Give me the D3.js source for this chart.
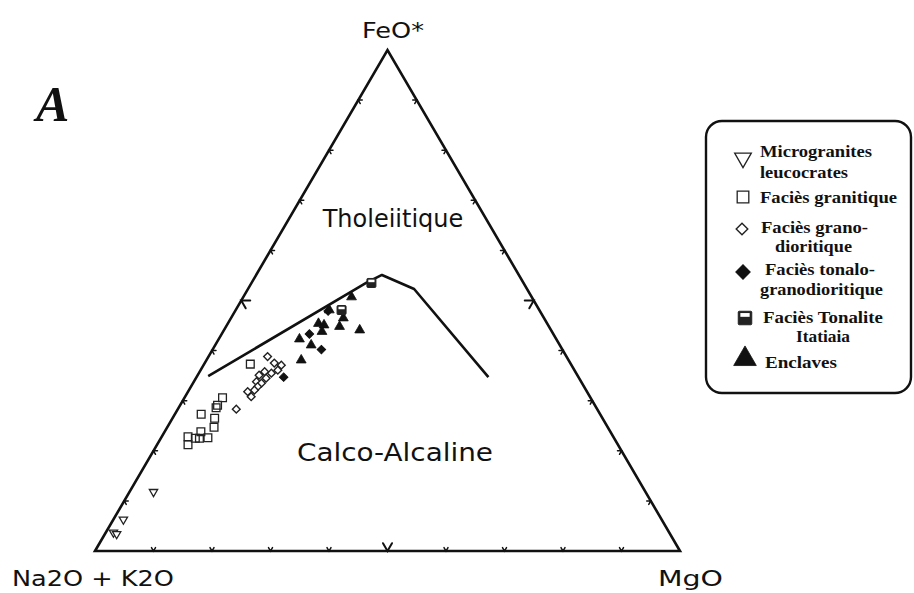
<!DOCTYPE html>
<html>
<head>
<meta charset="utf-8">
<script src="https://cdn.jsdelivr.net/npm/d3@7"></script>
<style>
  html, body { margin: 0; padding: 0; background: #fff; }
  svg { display: block; }
</style>
</head>
<body>
<script>
// AFM ternary diagram: Na2O+K2O (A) – FeO* (F) – MgO (M), oxide percentages [A, F, M]
const microgranites = [[84.1, 11.8, 4.1], [92.0, 6.3, 1.7], [95.0, 3.7, 1.3], [94.6, 3.4, 2.0]];
const faciesGranitique = [
  [54.8, 37.3, 7.9], [62.9, 30.6, 6.5], [64.5, 29.1, 6.4], [65.0, 28.6, 6.4],
  [68.2, 27.3, 4.5], [66.3, 26.5, 7.2], [67.3, 24.7, 8.0], [70.0, 23.8, 6.2],
  [72.7, 22.8, 4.5], [70.9, 22.5, 6.6], [69.4, 22.6, 8.0], [73.5, 21.2, 5.3],
  [71.6, 22.5, 5.9]
];
const faciesGranodioritique = [
  [61.7, 28.3, 10.0], [50.6, 37.5, 11.9], [49.6, 37.1, 13.3], [50.7, 36.1, 13.2],
  [52.1, 35.5, 12.4], [53.1, 35.8, 11.1], [54.4, 35.1, 10.5], [53.5, 34.5, 12.0],
  [55.5, 33.8, 10.7], [54.8, 33.5, 11.7], [55.8, 32.8, 11.4], [56.7, 32.1, 11.2],
  [58.0, 31.8, 10.2], [57.9, 30.8, 11.3], [51.1, 38.8, 10.1]
];
const faciesTonaloGranodioritique = [[50.4, 34.7, 14.9], [41.7, 43.3, 15.0], [41.2, 40.2, 18.6], [36.2, 47.9, 15.9]];
const tonaliteItatiaia = [[26.0, 53.5, 20.5], [33.8, 48.1, 18.1]];
const enclaves = [
  [30.8, 50.7, 18.5], [35.9, 48.1, 16.0], [34.3, 46.5, 19.2], [39.1, 45.4, 15.5],
  [38.3, 45.1, 16.6], [39.3, 43.8, 16.9], [35.8, 44.8, 19.4], [32.7, 44.1, 23.2],
  [43.9, 42.3, 13.8], [42.5, 41.1, 16.4], [45.7, 38.1, 16.2]
];
// Tholeiitic / calc-alkaline dividing line
const boundary = [[63.2, 34.9, 1.9], [26.9, 53.5, 19.6], [23.4, 55.1, 21.5], [19.3, 52.3, 28.4], [15.4, 34.7, 49.9]];
// Edge graduations (percent)
const tickValues = [10, 20, 30, 40, 50, 60, 70, 80, 90];
const vertexLabels = ["Na2O + K2O", "FeO*", "MgO"];
const fieldLabels = ["Tholeiitique", "Calco-Alcaline"];
const legendEntries = [
  { key: "micro", lines: ["Microgranites", "leucocrates"] },
  { key: "gran", lines: ["Faciès granitique"] },
  { key: "grano", lines: ["Faciès grano-", "dioritique"] },
  { key: "tonalo", lines: ["Faciès tonalo-", "granodioritique"] },
  { key: "itatiaia", lines: ["Faciès Tonalite", "Itatiaia"] },
  { key: "encl", lines: ["Enclaves"] }
];

const W = 914, H = 593;
const svg = d3.select("body").append("svg").attr("width", W).attr("height", H)
  .style("font-family", "'DejaVu Sans', sans-serif");
svg.append("rect").attr("width", W).attr("height", H).attr("fill", "#fff");

// base runs along MgO, height along FeO*
const xScale = d3.scaleLinear().domain([0, 100]).range([95, 680]);
const yScale = d3.scaleLinear().domain([0, 100]).range([551, 50]);
function project(d) {
  const s = d[0] + d[1] + d[2];
  const f = d[1] / s * 100, m = d[2] / s * 100;
  return [xScale(m + f / 2), yScale(f)];
}

const A = project([100, 0, 0]), F = project([0, 100, 0]), M = project([0, 0, 100]);

// triangle frame
svg.append("path")
  .attr("d", d3.line()([A, F, M]) + "Z")
  .attr("fill", "none").attr("stroke", "#111").attr("stroke-width", 2.6)
  .attr("stroke-linejoin", "miter");

// chevron graduations opening toward the interior
const centroid = [(A[0] + F[0] + M[0]) / 3, (A[1] + F[1] + M[1]) / 3];
const edges = [[A, F], [F, M], [A, M]];
const tickG = svg.append("g").attr("stroke", "#111").attr("fill", "none").attr("stroke-linecap", "round");
edges.forEach(([p, q]) => {
  const dx = q[0] - p[0], dy = q[1] - p[1], len = Math.hypot(dx, dy);
  let nx = -dy / len, ny = dx / len;
  const mid = [(p[0] + q[0]) / 2, (p[1] + q[1]) / 2];
  if ((centroid[0] - mid[0]) * nx + (centroid[1] - mid[1]) * ny < 0) { nx = -nx; ny = -ny; }
  tickValues.forEach(v => {
    const t = v / 100;
    const c = [p[0] + dx * t, p[1] + dy * t];
    const big = v === 50;
    const r = big ? 9 : 4;
    const ang = Math.PI / 6;
    const rot = (a) => [nx * Math.cos(a) - ny * Math.sin(a), nx * Math.sin(a) + ny * Math.cos(a)];
    const u1 = rot(ang), u2 = rot(-ang);
    tickG.append("path")
      .attr("d", d3.line()([[c[0] + u1[0] * r, c[1] + u1[1] * r], c, [c[0] + u2[0] * r, c[1] + u2[1] * r]]))
      .attr("stroke-width", big ? 2 : 1.5);
  });
});

// dividing line
svg.append("path")
  .attr("d", d3.line()(boundary.map(project)))
  .attr("fill", "none").attr("stroke", "#111").attr("stroke-width", 2.6)
  .attr("stroke-linejoin", "round");

// symbol makers
function drawSymbol(g, key, x, y, k) {
  k = k || 1;
  const sym = (type, size) => d3.symbol().type(type).size(size * k * k)();
  if (key === "micro") {
    g.append("path").attr("d", sym(d3.symbolTriangle, 30))
      .attr("transform", `translate(${x},${y}) rotate(180)`)
      .attr("fill", "#fff").attr("stroke", "#222").attr("stroke-width", 1.3);
  } else if (key === "gran") {
    g.append("path").attr("d", sym(d3.symbolSquare, 60))
      .attr("transform", `translate(${x},${y})`)
      .attr("fill", "none").attr("stroke", "#222").attr("stroke-width", 1.3);
  } else if (key === "grano") {
    g.append("path").attr("d", sym(d3.symbolSquare, 30))
      .attr("transform", `translate(${x},${y}) rotate(45)`)
      .attr("fill", "#fff").attr("stroke", "#222").attr("stroke-width", 1.4);
  } else if (key === "tonalo") {
    g.append("path").attr("d", sym(d3.symbolSquare, 36))
      .attr("transform", `translate(${x},${y}) rotate(45)`)
      .attr("fill", "#111").attr("stroke", "#111").attr("stroke-width", 1);
  } else if (key === "itatiaia") {
    const s = 9 * k;
    g.append("rect").attr("x", x - s / 2).attr("y", y - s / 2).attr("width", s).attr("height", s)
      .attr("rx", 1).attr("fill", "#222").attr("stroke", "#222").attr("stroke-width", 1);
    g.append("rect").attr("x", x - s / 2 + 1.4 * k).attr("y", y - s / 2 + 1.2 * k)
      .attr("width", s - 2.8 * k).attr("height", s * 0.28)
      .attr("fill", "#fff");
  } else if (key === "encl") {
    g.append("path").attr("d", sym(d3.symbolTriangle, 42))
      .attr("transform", `translate(${x},${y})`)
      .attr("fill", "#111").attr("stroke", "#111").attr("stroke-width", 0.8);
  }
}

const series = [
  ["gran", faciesGranitique],
  ["grano", faciesGranodioritique],
  ["micro", microgranites],
  ["tonalo", faciesTonaloGranodioritique],
  ["encl", enclaves],
  ["itatiaia", tonaliteItatiaia]
];
const pts = svg.append("g");
series.forEach(([key, data]) => {
  data.forEach(d => { const [x, y] = project(d); drawSymbol(pts, key, x, y, 1); });
});

// vertex labels
const vlab = svg.append("g").attr("fill", "#111").attr("font-size", 21);
vlab.append("text").attr("x", 12).attr("y", 586).attr("textLength", 162)
  .attr("lengthAdjust", "spacingAndGlyphs").text(vertexLabels[0]);
vlab.append("text").attr("x", 362).attr("y", 38).attr("textLength", 62)
  .attr("lengthAdjust", "spacingAndGlyphs").text(vertexLabels[1]);
vlab.append("text").attr("x", 658).attr("y", 586).attr("textLength", 65)
  .attr("lengthAdjust", "spacingAndGlyphs").text(vertexLabels[2]);

// field names
const flab = svg.append("g").attr("fill", "#111").attr("font-size", 24).attr("text-anchor", "middle");
flab.append("text").attr("x", 393).attr("y", 227).text(fieldLabels[0]);
flab.append("text").attr("x", 395).attr("y", 461).attr("textLength", 196)
  .attr("lengthAdjust", "spacingAndGlyphs").text(fieldLabels[1]);

// panel letter
svg.append("text").attr("x", 36).attr("y", 121)
  .attr("font-family", "'Liberation Serif', serif").attr("font-style", "italic")
  .attr("font-weight", "bold").attr("font-size", 50).attr("fill", "#111").text("A");

// legend
const lg = svg.append("g");
lg.append("rect").attr("x", 706).attr("y", 121).attr("width", 205).attr("height", 272)
  .attr("rx", 16).attr("fill", "#fff").attr("stroke", "#111").attr("stroke-width", 2.4);
const iconPos = { micro: [743, 158], gran: [743, 197], grano: [742, 229], tonalo: [743, 272], itatiaia: [745, 318], encl: [745, 359] };
// [x, baseline, width] for each legend line
const textPos = {
  micro: [[760, 157, 112], [760, 178, 88]],
  gran: [[760, 203, 137]],
  grano: [[761, 233, 107], [775, 252, 77]],
  tonalo: [[765, 275, 110], [760, 295, 123]],
  itatiaia: [[763, 323, 120], [796, 342, 54]],
  encl: [[765, 368, 72]]
};
const lt = lg.append("g").attr("font-family", "'Liberation Serif', serif").attr("font-weight", "bold")
  .attr("font-size", 16.5).attr("fill", "#111");
legendEntries.forEach(e => {
  const [ix, iy] = iconPos[e.key];
  drawSymbol(lg, e.key, ix, iy, e.key === "encl" ? 2.3 : e.key === "micro" ? 2.0 : e.key === "tonalo" ? 1.7 : 1.5);
  e.lines.forEach((ln, i) => {
    const [tx, ty, tw] = textPos[e.key][i];
    lt.append("text").attr("x", tx).attr("y", ty).attr("textLength", tw)
      .attr("lengthAdjust", "spacingAndGlyphs").text(ln);
  });
});
</script>
</body>
</html>
